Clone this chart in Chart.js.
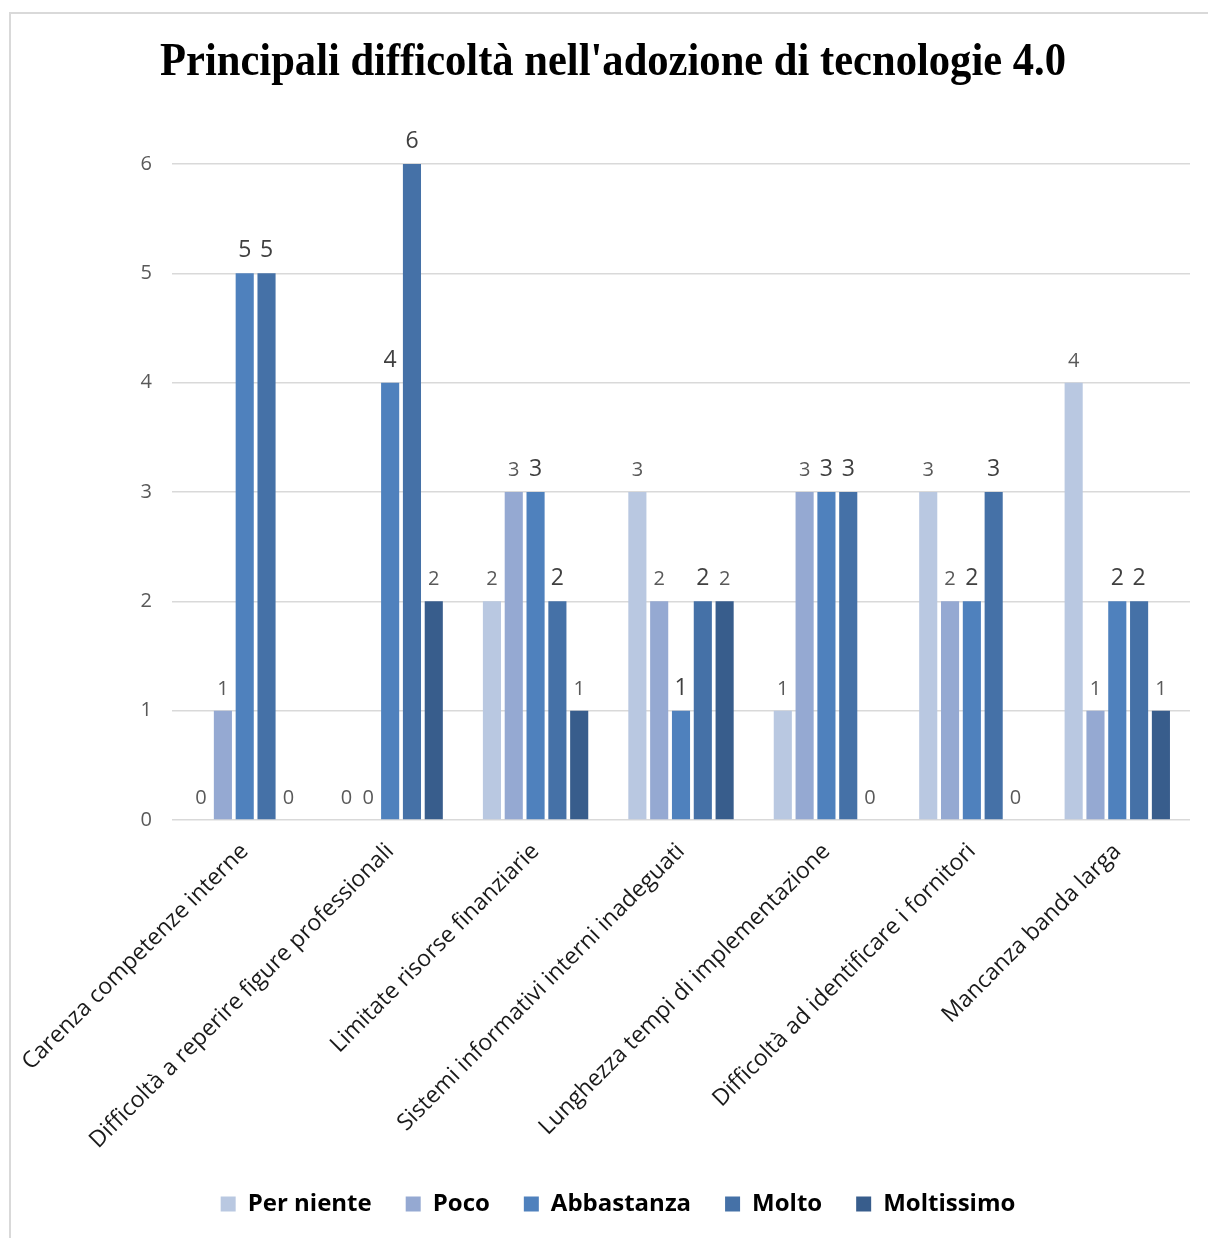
<!DOCTYPE html>
<html>
<head>
<meta charset="utf-8">
<script src="https://cdn.jsdelivr.net/npm/chart.js@4/dist/chart.umd.min.js"></script>
<style>
  body { margin: 0; background: #fff; overflow: hidden; }
  #frame { position: absolute; left: 9px; top: 12px; width: 1300px; height: 1300px; border: 2px solid #d9d9d9; }
  #wrap { position: absolute; left: 0; top: 0; width: 1208px; height: 1238px; }
</style>
</head>
<body>
<div id="frame"></div>
<div id="wrap"><canvas id="chart"></canvas></div>
<script>
var titolo = "Principali difficoltà nell'adozione di tecnologie 4.0";
var categorie = [
    'Carenza competenze interne',
    'Difficoltà a reperire figure professionali',
    'Limitate risorse finanziarie',
    'Sistemi informativi interni inadeguati',
    'Lunghezza tempi di implementazione',
    'Difficoltà ad identificare i fornitori',
    'Mancanza banda larga'
];
var serie = ['Per niente', 'Poco', 'Abbastanza', 'Molto', 'Moltissimo'];
var perNiente  = [0, 0, 2, 3, 1, 3, 4];
var poco       = [1, 0, 3, 2, 3, 2, 1];
var abbastanza = [5, 4, 3, 1, 3, 2, 2];
var molto      = [5, 6, 2, 2, 3, 3, 2];
var moltissimo = [0, 2, 1, 2, 0, 0, 1];
var tickY = [0, 1, 2, 3, 4, 5, 6];

var colori = ['#b9c8e1', '#95a9d2', '#4f81bd', '#4571a7', '#385d8c'];
var valori = [perNiente, poco, abbastanza, molto, moltissimo];
// le etichette di Abbastanza e Molto sono più grandi
var etichettaGrande = [false, false, true, true, false];

var datasets = serie.map(function(nome, i) {
    return {
        label: nome,
        data: valori[i],
        backgroundColor: colori[i],
        borderWidth: 0,
        categoryPercentage: 0.75,
        barPercentage: 0.83
    };
});

// valori sopra le barre
var etichette = {
    id: 'etichette',
    afterDatasetsDraw: function(chart) {
        var ctx = chart.ctx;
        ctx.save();
        ctx.textAlign = 'center';
        ctx.textBaseline = 'alphabetic';
        chart.data.datasets.forEach(function(ds, i) {
            var meta = chart.getDatasetMeta(i);
            var grande = etichettaGrande[i];
            ctx.font = (grande ? '23px' : '20px') + ' "Open Sans", sans-serif';
            ctx.fillStyle = grande ? '#404040' : '#595959';
            meta.data.forEach(function(bar, j) {
                ctx.fillText(String(ds.data[j]), bar.x, bar.y - 16);
            });
        });
        ctx.restore();
    }
};

// titolo in serif compresso
var titoloPlugin = {
    id: 'titolo',
    afterDraw: function(chart) {
        var ctx = chart.ctx;
        ctx.save();
        ctx.font = 'bold 47px "Liberation Serif", serif';
        ctx.fillStyle = '#000';
        ctx.textBaseline = 'alphabetic';
        var w = ctx.measureText(titolo).width;
        var sx = 906 / w;
        ctx.translate(613, 75);
        ctx.scale(sx, 1);
        ctx.textAlign = 'center';
        ctx.fillText(titolo, 0, 0);
        ctx.restore();
    }
};

// legenda un po' spostata a destra, centrata sull'area del grafico
var spostaLegenda = {
    id: 'spostaLegenda',
    afterLayout: function(chart) {
        chart.legend.left += 18;
        chart.legend.right += 18;
    }
};

var ctx = document.getElementById('chart').getContext('2d');
new Chart(ctx, {
    type: 'bar',
    data: { labels: categorie, datasets: datasets },
    plugins: [etichette, titoloPlugin, spostaLegenda],
    options: {
        responsive: true,
        maintainAspectRatio: false,
        animation: false,
        layout: { padding: { top: 164, right: 18, left: 10, bottom: 12 } },
        plugins: {
            title: { display: false },
            tooltip: { enabled: false },
            legend: {
                position: 'bottom',
                labels: {
                    boxWidth: 15,
                    boxHeight: 15,
                    padding: 34,
                    color: '#000',
                    font: { family: '"Open Sans", sans-serif', size: 24, weight: 'bold' }
                }
            }
        },
        scales: {
            x: {
                grid: { display: false },
                border: { display: false },
                afterFit: function(scale) { scale.height = 338; },
                ticks: {
                    autoSkip: false,
                    minRotation: 45,
                    maxRotation: 45,
                    color: '#1a1a1a',
                    padding: 10,
                    font: { family: '"Open Sans", sans-serif', size: 23 }
                }
            },
            y: {
                min: 0,
                max: 6,
                afterBuildTicks: function(scale) {
                    scale.ticks = tickY.map(function(v) { return { value: v }; });
                },
                afterFit: function(scale) { scale.width = 162; },
                grid: { color: '#d9d9d9', lineWidth: 1.5, drawTicks: false },
                border: { display: false },
                ticks: {
                    color: '#595959',
                    padding: 20,
                    font: { family: '"Open Sans", sans-serif', size: 20 }
                }
            }
        }
    }
});
</script>
</body>
</html>
